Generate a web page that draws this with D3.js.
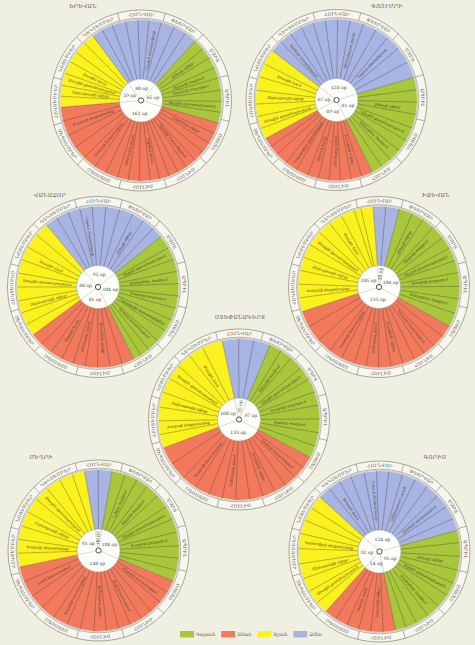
<!DOCTYPE html>
<html>
<head>
<meta charset="utf-8">
<script src="https://cdn.jsdelivr.net/npm/d3@7"></script>
<style>
  html, body { margin: 0; padding: 0; background: #f0f0e2; }
  svg { display: block; }
</style>
</head>
<body>
<svg id="chart" width="475" height="645"></svg>
<script>
// ---- data -------------------------------------------------------------
const cities = ["ԵՐԵՎԱՆ", "ԳՅՈՒՄՐԻ", "ՎԱՆԱՁՈՐ", "ԻՋԵՎԱՆ", "ՍՏԵՓԱՆԱԿԵՐՏ", "ՄԵՂՐԻ", "ԳՈՐԻՍ"];
// day of year (0 = 1 January) on which the climatic winter begins
const winterStart = [343, 327, 340, 11, 3, 5, 332];
// season lengths, days
const winterDays = [80, 128, 92, 19, 35, 20, 124];
const springDays = [65, 81, 104, 106, 97, 104, 95];
const summerDays = [161, 89, 81, 135, 133, 148, 54];
const autumnDays = [59, 67, 88, 105, 100, 93, 92];

const seasonNames = ["Ձմեռ", "Գարուն", "Ամառ", "Աշուն"];
const legendOrder = ["Գարուն", "Ամառ", "Աշուն", "Ձմեռ"];
const dayUnit = "օր";

const months = ["ՀՈՒՆՎԱՐ", "ՓԵՏՐՎԱՐ", "ՄԱՐՏ", "ԱՊՐԻԼ", "ՄԱՅԻՍ", "ՀՈՒՆԻՍ",
                "ՀՈՒԼԻՍ", "ՕԳՈՍՏՈՍ", "ՍԵՊՏԵՄԲԵՐ", "ՀՈԿՏԵՄԲԵՐ", "ՆՈՅԵՄԲԵՐ", "ԴԵԿՏԵՄԲԵՐ"];
const monthStartDays = [0, 31, 59, 90, 120, 151, 181, 212, 243, 273, 304, 334, 365];

// phenological phase dates (day of year) for each station
const phasesYerevan = [351, 359, 4, 13, 21, 30, 40, 49, 66, 74, 82, 90, 99, 107, 115,
  131, 139, 147, 155, 163, 170, 177, 184, 191, 199, 207, 215, 224, 233, 243, 253, 263, 274,
  292, 300, 309, 318, 326, 335];
const phasesGyumri = [336, 345, 354, 363, 7, 16, 25, 35, 45, 55, 66, 78, 99, 108, 117, 127,
  137, 146, 155, 163, 179, 187, 195, 203, 211, 219, 228, 237, 246, 253, 268, 277, 286, 296, 306, 316];
const phasesVanadzor = [349, 358, 2, 11, 21, 31, 41, 50, 59, 77, 86, 95, 104, 113, 122, 131,
  140, 149, 158, 165, 180, 189, 198, 207, 216, 225, 234, 243, 261, 270, 279, 289, 299, 309, 319, 330];
const phasesIjevan = [20, 40, 49, 58, 68, 77, 87, 96, 106, 115, 126, 145, 154, 163, 171, 180,
  189, 198, 207, 216, 226, 236, 247, 259, 281, 291, 301, 311, 321, 332, 342, 352, 362, 2];
const phasesStepanakert = [15, 26, 47, 56, 66, 76, 86, 96, 106, 116, 126, 144, 153, 162, 171,
  180, 190, 200, 210, 220, 231, 242, 255, 278, 288, 298, 309, 320, 331, 342, 353];
const phasesMeghri = [15, 35, 44, 53, 63, 73, 83, 93, 103, 112, 121, 138, 147, 156, 165, 174,
  183, 192, 201, 211, 221, 232, 243, 254, 266, 287, 297, 307, 318, 329, 340, 351, 361];
const phasesGoris = [341, 350, 359, 4, 13, 22, 32, 42, 52, 62, 72, 82, 100, 110, 120, 130, 140,
  150, 160, 170, 178, 195, 204, 213, 222, 231, 249, 259, 269, 280, 291, 302, 312, 322];

// phase notes: [day of year, text]
const notesYerevan = [[26, "Կայուն ձնածածկույթ"], [70, "Ձնհալի սկիզբ"], [86, "Ծիրանի ծաղկում"],
  [94, "Խաղողի բողբոջում"], [111, "Վերջին ցրտահարություն"], [135, "Խոտհնձի սկիզբ"],
  [159, "Ծիրանի հասունացում"], [187, "Ցորենի հունձ"], [211, "Ամենաշոգ շրջան"],
  [238, "Խաղողի հասունացում"], [269, "Խաղողի բերքահավաք"], [296, "Տերևաթափի սկիզբ"],
  [305, "Առաջին ցրտահարություն"], [314, "Առաջին ձյուն"]];
const notesGyumri = [[340, "Գետերի սառցակալում"], [30, "Ամենացուրտ շրջան"], [60, "Կայուն ձնածածկույթ"],
  [113, "Ձնհալի սկիզբ"], [132, "Վերջին ցրտահարություն"], [150, "Խնձորենու ծաղկում"],
  [183, "Խոտհնձի սկիզբ"], [199, "Ամենաշոգ շրջան"], [215, "Ցորենի հունձ"],
  [232, "Կարտոֆիլի բերքահավաք"], [272, "Առաջին ցրտահարություն"], [291, "Տերևաթափի սկիզբ"],
  [311, "Առաջին ձյուն"]];
const notesVanadzor = [[6, "Կայուն ձնածածկույթ"], [46, "Ձնհալի սկիզբ"], [81, "Վերջին ցրտահարություն"],
  [100, "Խնձորենու ծաղկում"], [117, "Խաղողի բողբոջում"], [136, "Դաշտային աշխատանքներ"],
  [152, "Կեռասի հասունացում"], [193, "Խոտհնձի սկիզբ"], [212, "Ամենաշոգ շրջան"],
  [229, "Ցորենի հունձ"], [274, "Տերևաթափի սկիզբ"], [294, "Առաջին ցրտահարություն"],
  [313, "Առաջին ձյուն"]];
const notesIjevan = [[45, "Ձնհալի սկիզբ"], [62, "Ծիրանի ծաղկում"], [82, "Վերջին ցրտահարություն"],
  [100, "Խաղողի բողբոջում"], [120, "Խնձորենու ծաղկում"], [158, "Կեռասի հասունացում"],
  [184, "Խոտհնձի սկիզբ"], [203, "Ամենաշոգ շրջան"], [231, "Խաղողի հասունացում"],
  [286, "Խաղողի բերքահավաք"], [306, "Տերևաթափի սկիզբ"], [326, "Առաջին ցրտահարություն"],
  [347, "Առաջին ձյուն"]];
const notesStepanakert = [[52, "Ծիրանի ծաղկում"], [71, "Վերջին ցրտահարություն"],
  [91, "Խաղողի բողբոջում"], [111, "Թթենու ծաղկում"], [149, "Կեռասի հասունացում"],
  [175, "Խոտհնձի սկիզբ"], [205, "Ամենաշոգ շրջան"], [236, "Խաղողի հասունացում"],
  [283, "Խաղողի բերքահավաք"], [303, "Տերևաթափի սկիզբ"], [325, "Առաջին ցրտահարություն"],
  [347, "Առաջին ձյուն"]];
const notesMeghri = [[40, "Նշենու ծաղկում"], [58, "Ծիրանի ծաղկում"], [78, "Վերջին ցրտահարություն"],
  [98, "Խաղողի բողբոջում"], [143, "Ծիրանի հասունացում"], [170, "Թզի հասունացում"],
  [196, "Ամենաշոգ շրջան"], [226, "Խաղողի հասունացում"], [260, "Նռան հասունացում"],
  [292, "Խաղողի բերքահավաք"], [313, "Տերևաթափի սկիզբ"], [335, "Առաջին ցրտահարություն"]];
const notesGoris = [[346, "Առաջին ձյուն"], [10, "Կայուն ձնածածկույթ"], [37, "Ամենացուրտ շրջան"],
  [67, "Գետերի սառցակալում"], [115, "Ձնհալի սկիզբ"], [135, "Վերջին ցրտահարություն"],
  [155, "Խնձորենու ծաղկում"], [200, "Խոտհնձի սկիզբ"], [218, "Ցորենի հունձ"],
  [254, "Առաջին ցրտահարություն"], [274, "Տերևաթափի սկիզբ"], [296, "Կարտոֆիլի բերքահավաք"]];

const phases = [phasesYerevan, phasesGyumri, phasesVanadzor, phasesIjevan,
                phasesStepanakert, phasesMeghri, phasesGoris];
const notes = [notesYerevan, notesGyumri, notesVanadzor, notesIjevan,
               notesStepanakert, notesMeghri, notesGoris];

// ---- layout & style ---------------------------------------------------
const wheelCenters = [[141, 100.5], [336.5, 100], [98, 287], [379, 287],
                      [239, 419.5], [98.5, 550.5], [379.5, 551.5]];
const titleAnchors = [[83, 7.5], [387, 7.5], [50, 196.5], [436, 196.5],
                      [240, 318.5], [41, 458.5], [435, 458.5]];
const seasonColor = d3.scaleOrdinal()
  .domain(seasonNames)
  .range(["#a8b5e4", "#a8c73b", "#f3795d", "#fbf11c"]);

const R_HUB = 2.6, R_IN = 21.5, R_PIE = 80.5, R_RING_IN = 82.3, R_RING_OUT = 90.5;
const FONT = "'DejaVu Serif', 'DejaVu Sans', serif";

// day of year -> angle (radians, clockwise from 12 o'clock); January is centred at the top
const angle = d3.scaleLinear().domain([0, 365]).range([-15, 345].map(d => d * Math.PI / 180));
const deg = r => r * 180 / Math.PI;
const norm = a => ((a % 360) + 360) % 360;

const svg = d3.select("#chart");
svg.append("rect").attr("width", 475).attr("height", 645).attr("fill", "#f0f0e2");

const arcGen = d3.arc();

function arcPath(r, a0, a1, reverse) {
  const p = a => [r * Math.sin(a), -r * Math.cos(a)];
  const [x0, y0] = p(reverse ? a1 : a0), [x1, y1] = p(reverse ? a0 : a1);
  const large = Math.abs(a1 - a0) > Math.PI ? 1 : 0;
  return `M${x0},${y0}A${r},${r} 0 ${large} ${reverse ? 0 : 1} ${x1},${y1}`;
}

cities.forEach((city, w) => {
  const [cx, cy] = wheelCenters[w];
  const g = svg.append("g").attr("transform", `translate(${cx},${cy})`);

  // month ring
  g.append("circle").attr("r", R_RING_OUT).attr("fill", "#f7f7ef")
    .attr("stroke", "#707066").attr("stroke-width", 0.6);
  g.append("circle").attr("r", R_RING_IN).attr("fill", "none")
    .attr("stroke", "#707066").attr("stroke-width", 0.5);
  g.append("circle").attr("r", R_PIE + 0.6).attr("fill", "none")
    .attr("stroke", "#8a8a80").attr("stroke-width", 0.4);

  const monthData = months.map((m, i) => ({
    name: m, a0: angle(monthStartDays[i]), a1: angle(monthStartDays[i + 1])
  }));
  g.selectAll("line.mdiv").data(monthData).join("line").attr("class", "mdiv")
    .attr("x1", d => R_RING_IN * Math.sin(d.a0)).attr("y1", d => -R_RING_IN * Math.cos(d.a0))
    .attr("x2", d => R_RING_OUT * Math.sin(d.a0)).attr("y2", d => -R_RING_OUT * Math.cos(d.a0))
    .attr("stroke", "#707066").attr("stroke-width", 0.55);

  monthData.forEach((d, i) => {
    const mid = norm(deg((d.a0 + d.a1) / 2));
    const flip = mid > 95 && mid < 265;
    const r = flip ? 88.2 : 84.7;
    const id = `mp-${w}-${i}`;
    g.append("path").attr("id", id).attr("fill", "none")
      .attr("d", arcPath(r, d.a0, d.a1, flip));
    g.append("text").attr("font-family", FONT).attr("font-size", 4.4)
      .attr("fill", "#55554c").attr("letter-spacing", 0.25)
      .append("textPath").attr("href", `#${id}`)
      .attr("startOffset", "50%").attr("text-anchor", "middle").text(d.name);
  });

  // seasons
  const lens = [winterDays[w], springDays[w], summerDays[w], autumnDays[w]];
  let s = winterStart[w];
  const seasons = seasonNames.map((name, i) => {
    const o = { name, days: lens[i], start: s, end: s + lens[i] };
    s += lens[i];
    return o;
  });
  g.selectAll("path.season").data(seasons).join("path").attr("class", "season")
    .attr("d", d => arcGen({ innerRadius: R_IN, outerRadius: R_PIE,
                             startAngle: angle(d.start), endAngle: angle(d.end) }))
    .attr("fill", d => seasonColor(d.name));

  // phase lines + season boundaries
  const lineDays = phases[w].concat(seasons.map(d => d.start));
  g.selectAll("line.phase").data(lineDays).join("line").attr("class", "phase")
    .attr("x1", d => R_IN * Math.sin(angle(d))).attr("y1", d => -R_IN * Math.cos(angle(d)))
    .attr("x2", d => R_PIE * Math.sin(angle(d))).attr("y2", d => -R_PIE * Math.cos(angle(d)))
    .attr("stroke", "#3e3e32").attr("stroke-opacity", 0.72).attr("stroke-width", 0.5);

  // phase notes
  g.selectAll("text.note").data(notes[w]).join("text").attr("class", "note")
    .attr("transform", d => {
      const a = norm(deg(angle(d[0])));
      const rot = a < 180 ? a - 90 : a + 90;
      const x = 51 * Math.sin(angle(d[0])), y = -51 * Math.cos(angle(d[0]));
      return `translate(${x},${y}) rotate(${rot})`;
    })
    .attr("text-anchor", "middle").attr("dy", "0.35em")
    .attr("font-family", FONT).attr("font-size", 3.5).attr("font-style", "italic")
    .attr("fill", "#4b3d22").text(d => d[1]);

  // centre disc
  g.append("circle").attr("r", R_IN).attr("fill", "#fdfdf9")
    .attr("stroke", "#8c8c82").attr("stroke-width", 0.5);
  g.selectAll("line.qdiv").data(seasons).join("line").attr("class", "qdiv")
    .attr("x1", d => R_HUB * Math.sin(angle(d.start))).attr("y1", d => -R_HUB * Math.cos(angle(d.start)))
    .attr("x2", d => R_IN * Math.sin(angle(d.start))).attr("y2", d => -R_IN * Math.cos(angle(d.start)))
    .attr("stroke", "#b9b9b0").attr("stroke-width", 0.5);
  g.append("circle").attr("r", R_HUB).attr("fill", "#fff")
    .attr("stroke", "#3a3a34").attr("stroke-width", 0.9);

  g.selectAll("text.days").data(seasons).join("text").attr("class", "days")
    .attr("transform", d => {
      const am = (angle(d.start) + angle(d.end)) / 2;
      const narrow = deg(angle(d.end) - angle(d.start)) < 45;
      const r = narrow ? 13 : 12.5;
      const x = r * Math.sin(am), y = -r * Math.cos(am);
      let rot = 0;
      if (narrow) { const a = norm(deg(am)); rot = a < 180 ? a - 90 : a + 90; }
      return `translate(${x},${y}) rotate(${rot})`;
    })
    .attr("text-anchor", "middle").attr("dy", "0.35em")
    .attr("font-family", FONT).attr("font-size", 4.5).attr("fill", "#3a3a34")
    .text(d => `${d.days} ${dayUnit}`);

  // station name
  svg.append("text").attr("x", titleAnchors[w][0]).attr("y", titleAnchors[w][1])
    .attr("text-anchor", "middle").attr("font-family", FONT).attr("font-style", "italic")
    .attr("font-size", 5.4).attr("letter-spacing", 0.3).attr("fill", "#5a5a52").text(city);
});

// legend
const legend = svg.append("g").attr("transform", "translate(180,631)");
let lx = 0;
legendOrder.forEach(name => {
  const item = legend.append("g").attr("transform", `translate(${lx},0)`);
  item.append("rect").attr("width", 14).attr("height", 6.5).attr("fill", seasonColor(name));
  const t = item.append("text").attr("x", 16).attr("y", 5).attr("font-family", FONT)
    .attr("font-size", 4.6).attr("fill", "#55554c").text(name);
  lx += 16 + t.node().getComputedTextLength() + 6;
});
</script>
</body>
</html>
